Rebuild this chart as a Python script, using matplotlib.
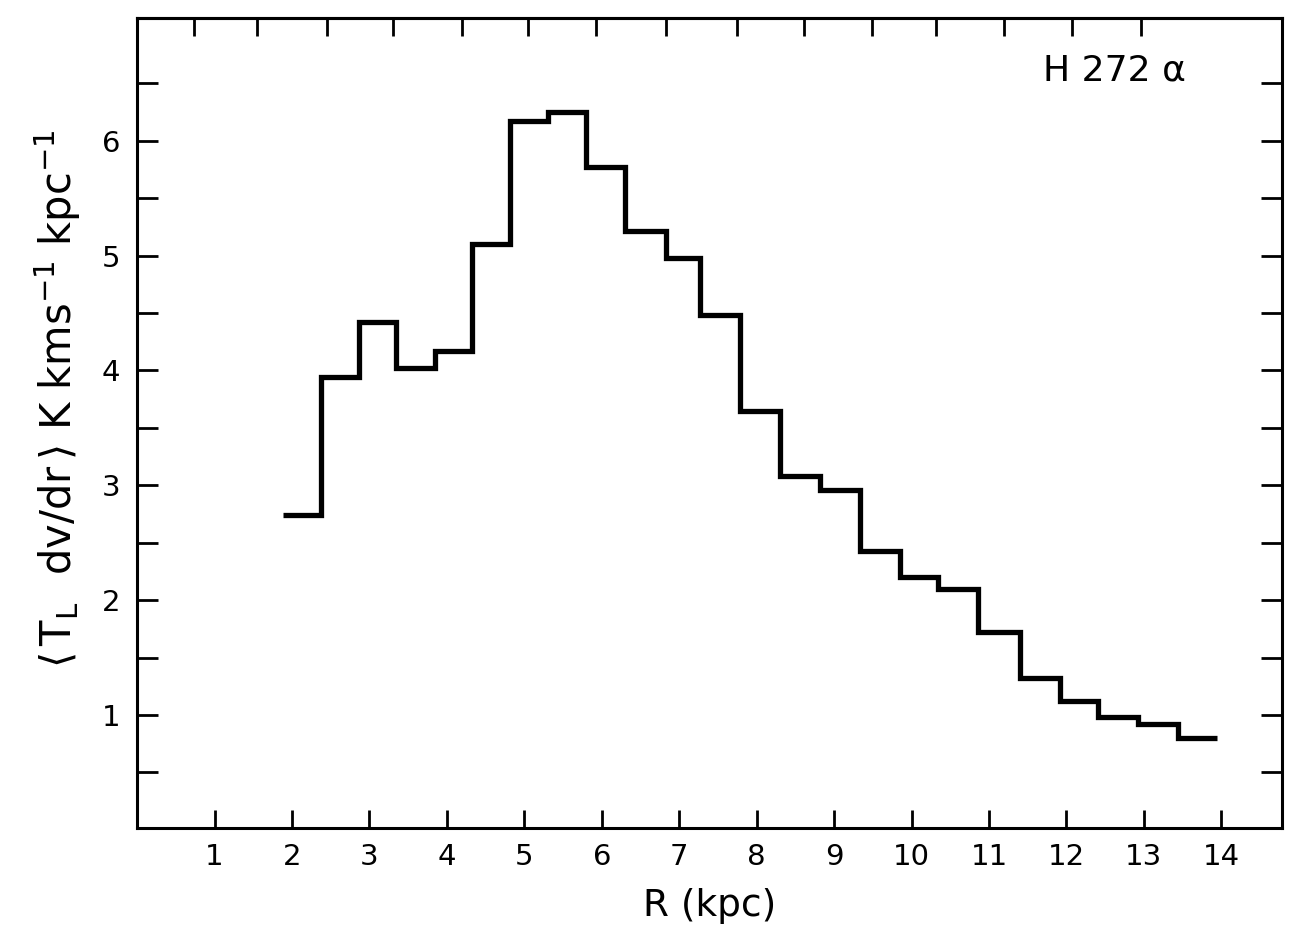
import matplotlib
matplotlib.use("Agg")
import matplotlib.pyplot as plt
import numpy as np

# Data
edges = [1.89, 2.38, 2.86, 3.34, 3.84, 4.33, 4.81, 5.31, 5.79, 6.30, 6.83, 7.27, 7.79,
         8.30, 8.82, 9.34, 9.85, 10.34, 10.86, 11.40, 11.92, 12.41, 12.92, 13.44, 13.94]
values = [2.74, 3.94, 4.42, 4.02, 4.17, 5.10, 6.17, 6.25, 5.77, 5.21, 4.98, 4.48, 3.65,
          3.08, 2.96, 2.43, 2.20, 2.10, 1.72, 1.32, 1.12, 0.98, 0.92, 0.80]
x_ticks = list(range(1, 15))
x_ticklabels = [str(v) for v in x_ticks]
y_major = [1, 2, 3, 4, 5, 6]
y_minor = [0.5, 1.5, 2.5, 3.5, 4.5, 5.5, 6.5]
top_ticks = [0.73, 1.55, 2.45, 3.30, 4.20, 5.05, 5.93, 6.83, 7.74, 8.61, 9.49, 10.32,
             11.19, 12.07, 12.96]

plt.rcParams["mathtext.fontset"] = "dejavusans"

fig = plt.figure(figsize=(13.06, 9.32), dpi=100)
ax = fig.add_axes([0.105, 0.112, 0.877, 0.869])

ax.stairs(values, edges, color="black", linewidth=3.8, baseline=None)

ax.set_xlim(0, 14.79)
ax.set_ylim(0.02, 7.07)

ax.set_xticks(x_ticks)
ax.set_xticklabels(x_ticklabels)
ax.set_yticks(y_major)
ax.set_yticks(y_minor, minor=True)

ax.tick_params(axis="both", which="both", direction="in", width=2, color="black")
ax.tick_params(axis="x", which="major", length=13, labelsize=21, pad=11)
ax.tick_params(axis="y", which="major", length=15, labelsize=21, pad=12, right=True)
ax.tick_params(axis="y", which="minor", length=15, right=True)

secx = ax.secondary_xaxis("top")
secx.set_xticks(top_ticks)
secx.tick_params(direction="in", length=13, width=2, labeltop=False)
secx.spines["top"].set_linewidth(2.2)

for s in ax.spines.values():
    s.set_linewidth(2.2)

ax.set_xlabel("R (kpc)", fontsize=27, labelpad=12)
ax.set_ylabel(r"$\left\langle\,\mathrm{T_L\ \ dv/dr}\,\right\rangle$ K kms$^{-1}$ kpc$^{-1}$",
              fontsize=30)
ax.yaxis.set_label_coords(-0.047, 0.53)

ax.text(0.916, 0.935, "H 272 α", transform=ax.transAxes, fontsize=26,
        ha="right", va="center")

fig.savefig("out.png", dpi=100)
